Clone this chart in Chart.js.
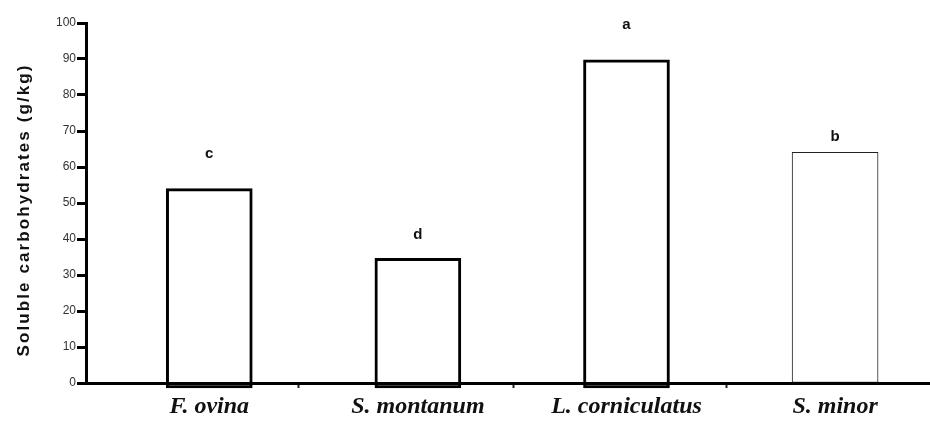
<!DOCTYPE html>
<html>
<head>
<meta charset="utf-8">
<script src="https://cdn.jsdelivr.net/npm/chart.js@4/dist/chart.umd.min.js"></script>
<style>
  html, body { margin: 0; padding: 0; background: #fff; }
  #wrap { width: 930px; height: 423px; position: relative; }
</style>
</head>
<body>
<div id="wrap"><canvas id="chart"></canvas></div>
<script>
// species on the x axis
const species = ['F. ovina', 'S. montanum', 'L. corniculatus', 'S. minor'];
// soluble carbohydrates, g/kg
const carbs = [54, 34.6, 89.8, 64.1];
// significance letters and the height they sit at (g/kg)
const letters = ['c', 'd', 'a', 'b'];
const letterAt = [63.7, 41.2, 99.6, 68.4];
// y tick labels
const yTicks = [0, 10, 20, 30, 40, 50, 60, 70, 80, 90, 100];
// small separator ticks between categories (x units)
const separators = [0.43, 1.46, 2.48];
const yTitle = 'Soluble carbohydrates (g/kg)';

// first three bars drawn heavy, the last one thin
const heavy = carbs.map((v, i) => i < 3 ? { x: i, y: v } : null).filter(Boolean);
const thin = carbs.map((v, i) => i === 3 ? { x: i, y: v } : null).filter(Boolean);

const extrasPlugin = {
    id: 'extras',
    afterDatasetsDraw(chart) {
        const { ctx, chartArea, scales: { x, y } } = chart;
        ctx.save();
        ctx.font = 'bold 15px "Liberation Sans", Arial, sans-serif';
        ctx.fillStyle = '#111';
        ctx.textAlign = 'center';
        ctx.textBaseline = 'middle';
        letters.forEach((l, i) => {
            ctx.fillText(l, x.getPixelForValue(i), y.getPixelForValue(letterAt[i]));
        });
        // axis title, spaced out like the original
        ctx.translate(24, (chartArea.top + chartArea.bottom) / 2 + 7);
        ctx.rotate(-Math.PI / 2);
        ctx.font = 'bold 17px "Liberation Sans", Arial, sans-serif';
        ctx.letterSpacing = '2.1px';
        ctx.fillText(yTitle, 0, 0);
        ctx.restore();
    }
};

const barStyle = {
    backgroundColor: '#fff',
    borderSkipped: false,
    barThickness: 86,
    clip: false
};

new Chart(document.getElementById('chart'), {
    type: 'bar',
    data: {
        datasets: [
            Object.assign({ data: heavy, borderColor: '#000', borderWidth: 3, base: -1.4 }, barStyle),
            Object.assign({ data: thin, borderColor: '#222', borderWidth: 1, base: 0 }, barStyle)
        ]
    },
    options: {
        responsive: true,
        maintainAspectRatio: false,
        animation: false,
        grouped: false,
        layout: { padding: { top: 23, right: 0, left: 0, bottom: 0 } },
        plugins: { legend: { display: false }, tooltip: { enabled: false } },
        scales: {
            x: {
                type: 'linear',
                offset: false,
                min: -0.591,
                max: 3.455,
                afterBuildTicks: (scale) => {
                    scale.ticks = [0, 1, 2, 3].concat(separators).map(v => ({ value: v }));
                },
                afterFit: (scale) => { scale.height = 40; },
                border: { display: true, color: '#000', width: 3, z: 1 },
                grid: {
                    offset: false,
                    drawOnChartArea: false,
                    tickLength: 5,
                    tickWidth: 2,
                    color: (c) => (c.tick && Number.isInteger(c.tick.value)) ? 'rgba(0,0,0,0)' : '#222'
                },
                ticks: {
                    autoSkip: false,
                    maxRotation: 0,
                    padding: 4,
                    color: '#111',
                    font: { family: '"Liberation Serif", "Times New Roman", serif', size: 24, style: 'italic', weight: 'bold' },
                    callback: (v) => Number.isInteger(v) ? species[v] : ''
                }
            },
            y: {
                min: 0,
                max: 100,
                afterBuildTicks: (scale) => {
                    scale.ticks = yTicks.map(v => ({ value: v }));
                },
                afterFit: (scale) => { scale.width = 86; },
                border: { display: true, color: '#000', width: 3 },
                grid: { drawOnChartArea: false, tickLength: 9, tickWidth: 3, color: '#000' },
                ticks: {
                    padding: 1,
                    color: '#333',
                    font: { family: '"Liberation Sans", Arial, sans-serif', size: 12 }
                }
            }
        }
    },
    plugins: [extrasPlugin]
});
</script>
</body>
</html>
